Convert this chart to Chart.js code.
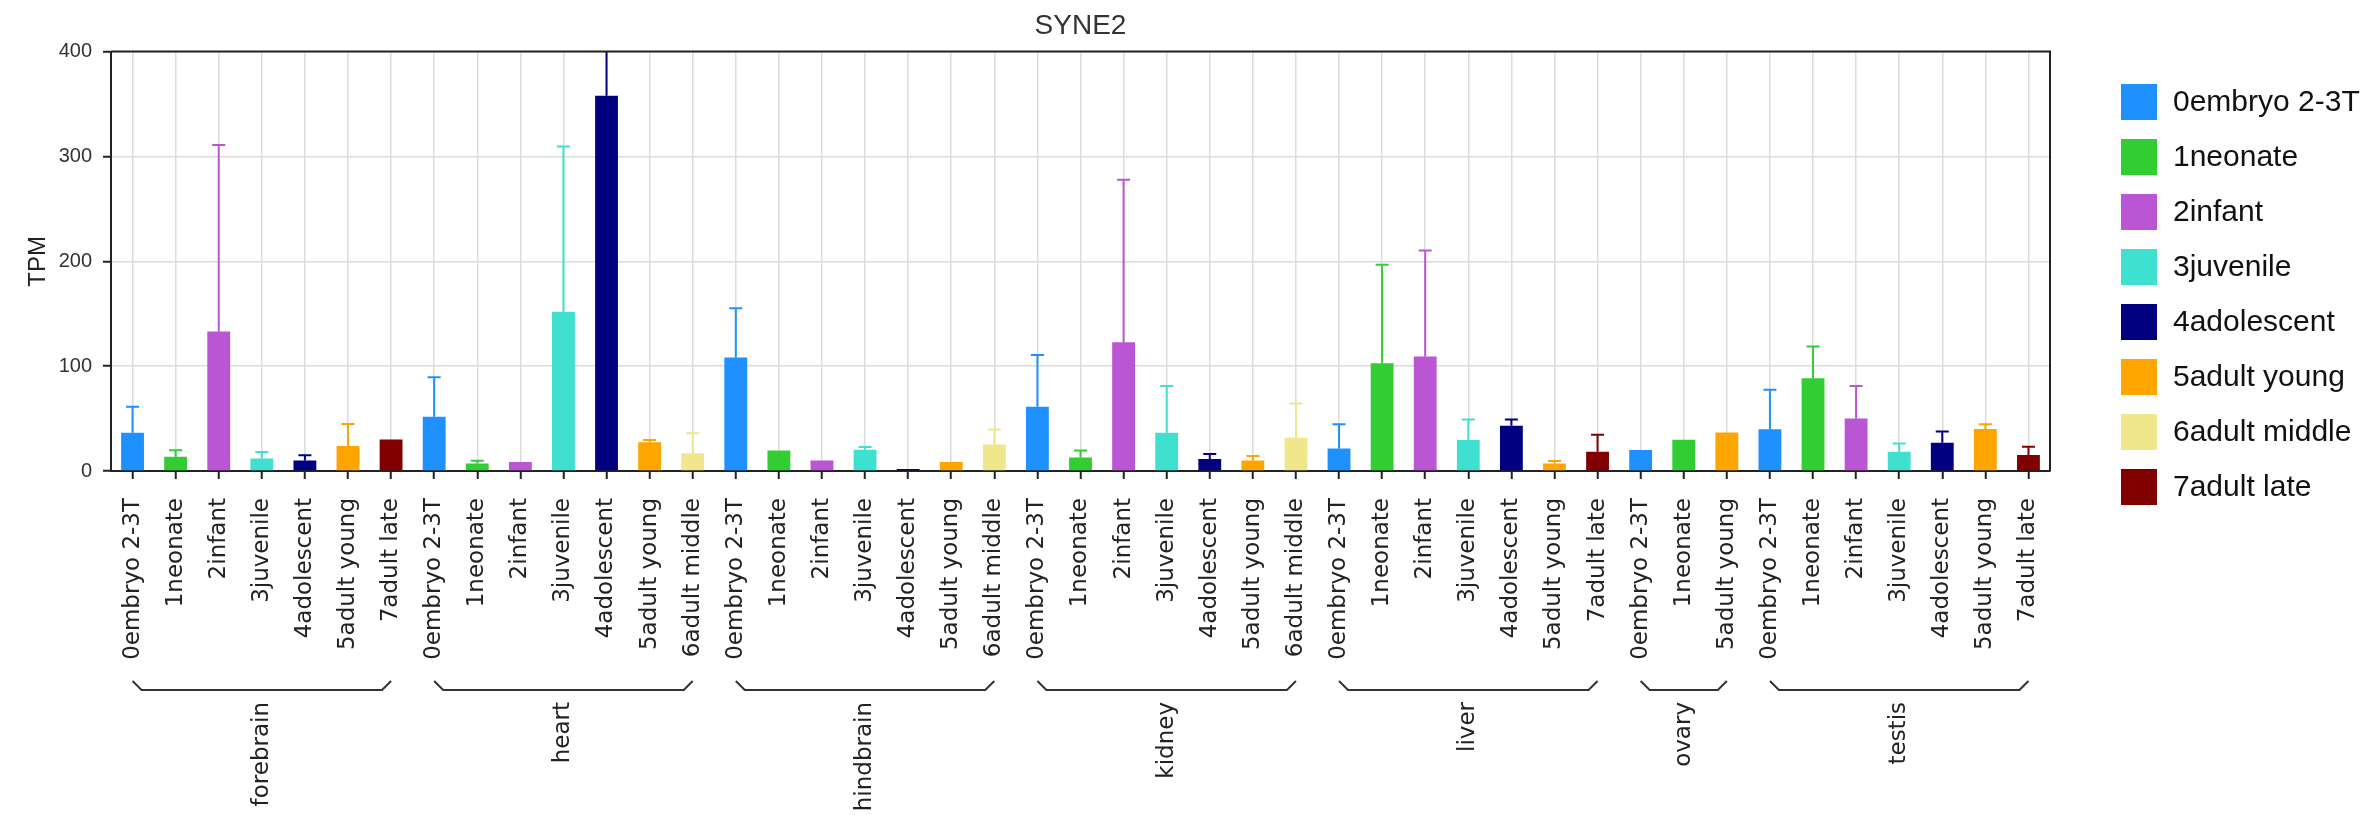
<!DOCTYPE html>
<html>
<head>
<meta charset="utf-8">
<title>SYNE2</title>
<style>
  html, body { margin: 0; padding: 0; background: #ffffff; }
  #wrap { width: 2364px; height: 815px; }
</style>
<script src="https://cdn.jsdelivr.net/npm/chart.js@4.4.1/dist/chart.umd.min.js"></script>
</head>
<body>
<div id="wrap"><canvas id="chart" width="2364" height="815"></canvas></div>
<script>
// Developmental stages (series) and their colours
const stages = ['0embryo 2-3T', '1neonate', '2infant', '3juvenile', '4adolescent', '5adult young', '6adult middle', '7adult late'];
const stageColors = ['#1E90FF', '#32CD32', '#BA55D3', '#40E0D0', '#000080', '#FFA500', '#F0E68C', '#800000'];

// Tissues, in display order
const tissues = ['forebrain', 'heart', 'hindbrain', 'kidney', 'liver', 'ovary', 'testis'];

// Per tissue: which stages are present, mean TPM, and top of the error bar (mean + SD)
const forebrainStages = [0, 1, 2, 3, 4, 5, 7];
const forebrainTPM    = [36.5, 13.5, 133.0, 12.0, 10.0, 23.8, 30.1];
const forebrainUpper  = [61.2, 19.7, 311.0, 18.1, 15.0, 44.8, null];

const heartStages = [0, 1, 2, 3, 4, 5, 6];
const heartTPM    = [51.8, 7.2, 8.7, 152.0, 358.0, 27.4, 17.0];
const heartUpper  = [89.4, 9.8, null, 309.6, 430.0, 29.6, 36.0];

const hindbrainStages = [0, 1, 2, 3, 4, 5, 6];
const hindbrainTPM    = [108.2, 19.6, 9.9, 20.2, 1.8, 8.7, 25.3];
const hindbrainUpper  = [155.3, null, null, 23.0, null, null, 39.6];

const kidneyStages = [0, 1, 2, 3, 4, 5, 6];
const kidneyTPM    = [61.3, 12.9, 122.9, 36.4, 11.5, 9.9, 31.6];
const kidneyUpper  = [110.7, 19.5, 277.8, 81.0, 16.2, 14.4, 64.4];

const liverStages = [0, 1, 2, 3, 4, 5, 7];
const liverTPM    = [21.5, 102.8, 109.1, 29.5, 43.1, 7.2, 18.3];
const liverUpper  = [44.7, 196.7, 210.3, 49.2, 49.2, 9.6, 34.6];

const ovaryStages = [0, 1, 5];
const ovaryTPM    = [20.1, 29.8, 36.7];
const ovaryUpper  = [null, null, null];

const testisStages = [0, 1, 2, 3, 4, 5, 7];
const testisTPM    = [39.8, 88.5, 50.0, 18.3, 26.9, 40.1, 15.3];
const testisUpper  = [77.5, 118.7, 81.0, 26.3, 37.6, 44.6, 23.2];

const yTicks = [0, 100, 200, 300, 400];

// ---- assemble category axis and one dataset per stage ----
const groups = [
  [forebrainStages, forebrainTPM, forebrainUpper],
  [heartStages, heartTPM, heartUpper],
  [hindbrainStages, hindbrainTPM, hindbrainUpper],
  [kidneyStages, kidneyTPM, kidneyUpper],
  [liverStages, liverTPM, liverUpper],
  [ovaryStages, ovaryTPM, ovaryUpper],
  [testisStages, testisTPM, testisUpper]
];

const labels = [];
const groupSpans = [];
const stageIndexOfBar = [];
const tpmOfBar = [];
const upperOfBar = [];
groups.forEach(([st, tpm, up], g) => {
  const start = labels.length;
  st.forEach((s, k) => {
    labels.push(stages[s]);
    stageIndexOfBar.push(s);
    tpmOfBar.push(tpm[k]);
    upperOfBar.push(up[k]);
  });
  groupSpans.push({ name: tissues[g], from: start, to: labels.length - 1 });
});

const datasets = stages.map((name, s) => ({
  label: name,
  backgroundColor: stageColors[s],
  borderWidth: 0,
  data: labels.map((_, i) => stageIndexOfBar[i] === s ? tpmOfBar[i] : null),
  upper: labels.map((_, i) => stageIndexOfBar[i] === s ? upperOfBar[i] : null)
}));

// ---- plugins: error bars, plot frame, tissue brackets, legend ----
const errorBars = {
  id: 'errorBars',
  afterDatasetsDraw(chart) {
    const { ctx, chartArea: a } = chart;
    const y = chart.scales.y;
    ctx.save();
    ctx.beginPath();
    ctx.rect(a.left, a.top, a.right - a.left, a.bottom - a.top);
    ctx.clip();
    chart.data.datasets.forEach((ds, di) => {
      const meta = chart.getDatasetMeta(di);
      ds.upper.forEach((u, i) => {
        if (u == null || ds.data[i] == null) return;
        const bar = meta.data[i];
        const yTop = y.getPixelForValue(u);
        ctx.strokeStyle = ds.backgroundColor;
        ctx.lineWidth = 2;
        ctx.beginPath();
        ctx.moveTo(bar.x, bar.y);
        ctx.lineTo(bar.x, yTop);
        ctx.moveTo(bar.x - 6.5, yTop);
        ctx.lineTo(bar.x + 6.5, yTop);
        ctx.stroke();
      });
    });
    ctx.restore();
  }
};

const plotFrame = {
  id: 'plotFrame',
  afterDatasetsDraw(chart) {
    const { ctx, chartArea: a } = chart;
    ctx.save();
    ctx.strokeStyle = '#222222';
    ctx.lineWidth = 2;
    ctx.beginPath();
    ctx.moveTo(a.left, a.top);
    ctx.lineTo(a.right, a.top);
    ctx.lineTo(a.right, a.bottom);
    ctx.stroke();
    ctx.restore();
  }
};

const tissueBrackets = {
  id: 'tissueBrackets',
  afterDraw(chart) {
    const { ctx } = chart;
    const x = chart.scales.x;
    const yLine = 690, yTip = 681, slant = 9;
    ctx.save();
    ctx.strokeStyle = '#333333';
    ctx.lineWidth = 2;
    ctx.fillStyle = '#222222';
    ctx.font = '23px "DejaVu Sans"';
    groupSpans.forEach(gs => {
      const x0 = x.getPixelForValue(gs.from);
      const x1 = x.getPixelForValue(gs.to);
      ctx.beginPath();
      ctx.moveTo(x0, yTip);
      ctx.lineTo(x0 + slant, yLine);
      ctx.lineTo(x1 - slant, yLine);
      ctx.lineTo(x1, yTip);
      ctx.stroke();
      ctx.save();
      ctx.translate((x0 + x1) / 2, 702);
      ctx.rotate(-Math.PI / 2);
      ctx.textAlign = 'right';
      ctx.textBaseline = 'middle';
      ctx.fillText(gs.name, 0, 0);
      ctx.restore();
    });
    ctx.restore();
  }
};

const stageLegend = {
  id: 'stageLegend',
  afterDraw(chart) {
    const { ctx } = chart;
    const left = 2121, top = 84, box = 36, step = 55;
    ctx.save();
    ctx.font = '30px "Liberation Sans"';
    ctx.textBaseline = 'middle';
    ctx.textAlign = 'left';
    chart.data.datasets.forEach((ds, i) => {
      const yb = top + i * step;
      ctx.fillStyle = ds.backgroundColor;
      ctx.fillRect(left, yb, box, box);
      ctx.fillStyle = '#111111';
      ctx.fillText(ds.label, left + box + 16, yb + box / 2 + 1);
    });
    ctx.restore();
  }
};

new Chart(document.getElementById('chart'), {
  type: 'bar',
  data: { labels, datasets },
  plugins: [errorBars, plotFrame, tissueBrackets, stageLegend],
  options: {
    responsive: false,
    animation: false,
    devicePixelRatio: 1,
    layout: { padding: { left: 0, right: 314, top: 0, bottom: 0 } },
    datasets: {
      bar: { grouped: false, barPercentage: 0.53, categoryPercentage: 1.0, skipNull: true }
    },
    plugins: {
      legend: { display: false },
      tooltip: { enabled: false },
      title: {
        display: true,
        text: 'SYNE2',
        fullSize: false,
        color: '#333333',
        font: { family: 'Liberation Sans', size: 28, weight: 'normal' },
        padding: { top: 9, bottom: 9 }
      }
    },
    scales: {
      x: {
        type: 'category',
        offset: true,
        grid: {
          offset: false,
          color: '#dcdcdc',
          lineWidth: 1.5,
          drawTicks: true,
          tickLength: 8,
          tickColor: '#222222',
          tickWidth: 2
        },
        border: { display: true, color: '#222222', width: 2 },
        ticks: {
          autoSkip: false,
          minRotation: 90,
          maxRotation: 90,
          padding: 19,
          color: '#222222',
          font: { family: 'DejaVu Sans', size: 23 }
        },
        afterFit(scale) { scale.height = 344; }
      },
      y: {
        min: 0,
        max: 400,
        afterBuildTicks(scale) { scale.ticks = yTicks.map(v => ({ value: v })); },
        grid: {
          color: '#dcdcdc',
          lineWidth: 1.5,
          drawTicks: true,
          tickLength: 8,
          tickColor: '#222222',
          tickWidth: 2
        },
        border: { display: true, color: '#222222', width: 2 },
        ticks: {
          padding: 11,
          color: '#333333',
          font: { family: 'Liberation Sans', size: 20 }
        },
        title: {
          display: true,
          text: 'TPM',
          color: '#222222',
          font: { family: 'Liberation Sans', size: 24 },
          padding: { top: 24, bottom: 0 }
        },
        afterFit(scale) { scale.width = 111; }
      }
    }
  }
});
</script>
</body>
</html>
